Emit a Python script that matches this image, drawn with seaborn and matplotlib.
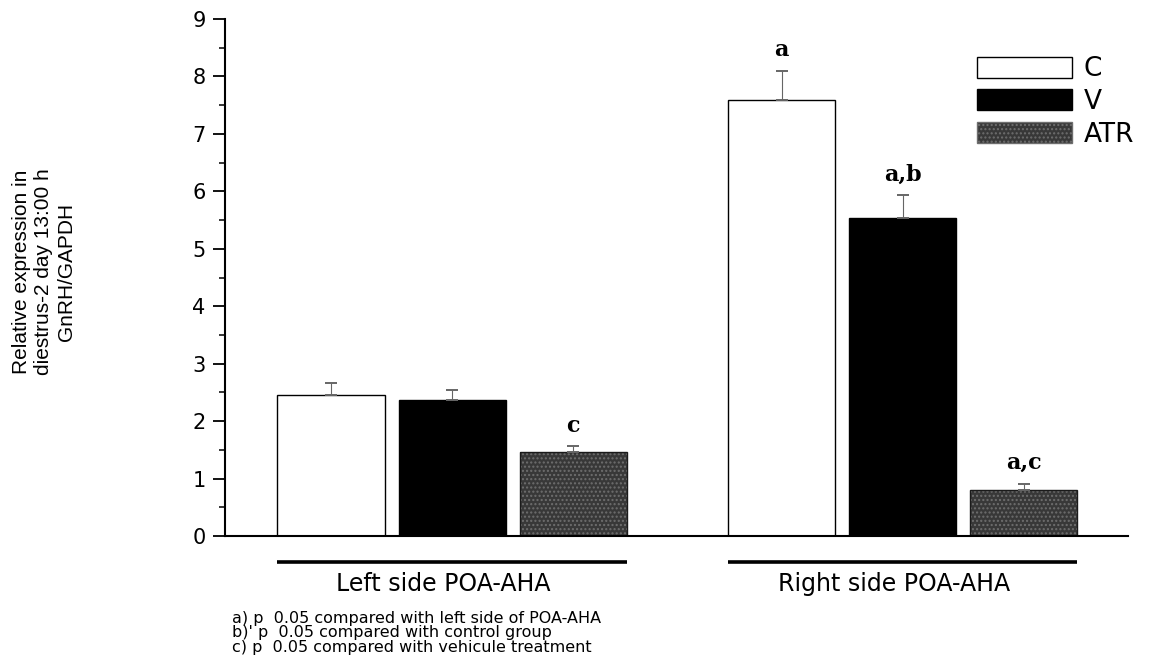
import matplotlib
matplotlib.use("Agg")
import matplotlib.pyplot as plt
import matplotlib.transforms as mtransforms
from matplotlib.patches import Patch
from matplotlib.ticker import MultipleLocator
import seaborn as sns
import pandas as pd

regions = ["Left side POA-AHA", "Right side POA-AHA"]
groups = ["C", "V", "ATR"]
values_left = [2.46, 2.36, 1.46]
values_right = [7.59, 5.53, 0.80]
errors_left = [0.20, 0.19, 0.10]
errors_right = [0.51, 0.40, 0.11]
labels_left = ["", "", "c"]
labels_right = ["a", "a,b", "a,c"]
footnotes = [
    "a) p  0.05 compared with left side of POA-AHA",
    "b)' p  0.05 compared with control group",
    "c) p  0.05 compared with vehicule treatment",
]
ylabel = "Relative expression in\ndiestrus-2 day 13:00 h\nGnRH/GAPDH"

rows = []
for g, v in zip(groups, values_left):
    rows.append({"region": regions[0], "group": g, "value": v})
for g, v in zip(groups, values_right):
    rows.append({"region": regions[1], "group": g, "value": v})
df = pd.DataFrame(rows)

sns.set_theme(style="white")
plt.rcParams["font.family"] = ["DejaVu Sans"]
plt.rcParams["text.color"] = "black"
plt.rcParams["axes.labelcolor"] = "black"
plt.rcParams["ytick.color"] = "black"

W, H = 1163, 671
fig = plt.figure(figsize=(W / 100, H / 100), dpi=100)
ax_left, ax_right, ax_top, ax_bottom = 225, 1128, 19, 536
ax = fig.add_axes([ax_left / W, 1 - ax_bottom / H, (ax_right - ax_left) / W,
                   (ax_bottom - ax_top) / H])

atr_color = "#383838"
palette = {"C": "white", "V": "black", "ATR": atr_color}
sns.barplot(data=df, x="region", y="value", hue="group", order=regions,
            hue_order=groups, palette=palette, width=0.806, gap=0.115,
            edgecolor="black", linewidth=1.0, ax=ax, legend=False,
            errorbar=None)

bar_patches = list(ax.patches)
# order: C(left,right), V(left,right), ATR(left,right)
for p in bar_patches[4:6]:
    p.set_hatch("....")
    p.set_edgecolor("#6e6e6e")
    p.set_linewidth(0.0)
    ax.add_patch(plt.Rectangle((p.get_x(), 0), p.get_width(), p.get_height(),
                               fill=False, edgecolor="#1a1a1a", linewidth=1.0))

vals = {0: values_left, 1: values_right}
errs = {0: errors_left, 1: errors_right}
labs = {0: labels_left, 1: labels_right}
for gi in range(3):
    for ri in range(2):
        p = bar_patches[gi * 2 + ri]
        xc = p.get_x() + p.get_width() / 2
        v = vals[ri][gi]
        e = errs[ri][gi]
        ax.errorbar([xc], [v], yerr=[[0], [e]], fmt="none", ecolor="#666666",
                    elinewidth=0.8, capsize=4.5, capthick=1.4)
        if labs[ri][gi]:
            ax.text(xc, v + e + 0.36, labs[ri][gi], ha="center", va="center",
                    fontsize=16, fontweight="bold", color="black",
                    family=["DejaVu Serif", "Liberation Serif"])

ax.set_xlim(-0.504, 1.5)
ax.set_ylim(0, 9)
ax.yaxis.set_major_locator(MultipleLocator(1))
ax.yaxis.set_minor_locator(MultipleLocator(0.5))
ax.tick_params(axis="y", which="major", left=True, length=8.5, width=1.3,
               direction="out", labelsize=15, pad=5.5, colors="black")
ax.tick_params(axis="y", which="minor", left=True, length=4, width=1.1,
               direction="out", colors="black")
ax.tick_params(axis="x", bottom=False, labelbottom=False)
ax.set_xlabel("")
ax.set_ylabel("")
for s in ["top", "right"]:
    ax.spines[s].set_visible(False)
for s in ["left", "bottom"]:
    ax.spines[s].set_color("black")
    ax.spines[s].set_linewidth(1.5)

# group underlines and labels
ax_h = ax_bottom - ax_top
trans = mtransforms.blended_transform_factory(ax.transData, ax.transAxes)
for ri in range(2):
    first = bar_patches[0 * 2 + ri]
    last = bar_patches[2 * 2 + ri]
    x0 = first.get_x()
    x1 = last.get_x() + last.get_width()
    yline = -(562 - ax_bottom) / ax_h
    ax.plot([x0, x1], [yline, yline], color="black", linewidth=2.6,
            transform=trans, clip_on=False, solid_capstyle="butt")
    ax.text((x0 + x1) / 2 - 0.02, -(584 - ax_bottom) / ax_h, regions[ri],
            transform=trans, ha="center", va="center", fontsize=17, color="black")

# legend
handles = [Patch(facecolor="white", edgecolor="black", label="C"),
           Patch(facecolor="black", edgecolor="black", label="V"),
           Patch(facecolor=atr_color, edgecolor="#6e6e6e", hatch="....", label="ATR")]
leg = ax.legend(handles=handles, loc="upper left", bbox_to_anchor=(0.821, 0.948),
                frameon=False, fontsize=19, handlelength=3.6, handleheight=0.85,
                handletextpad=0.45, labelspacing=0.25, borderaxespad=0)
for t in leg.get_texts():
    t.set_color("black")

# y label
fig.text(44 / W, 1 - 272 / H, ylabel, rotation=90, ha="center", va="center",
         fontsize=15, linespacing=1.25, color="black",
         family=["Liberation Sans", "DejaVu Sans"])

# footnotes (one text block)
fig.text(232 / W, 1 - 633 / H, "\n".join(footnotes), ha="left", va="center",
         fontsize=11.5, linespacing=0.98, color="black")

fig.savefig("out.png", dpi=100, facecolor="white")
